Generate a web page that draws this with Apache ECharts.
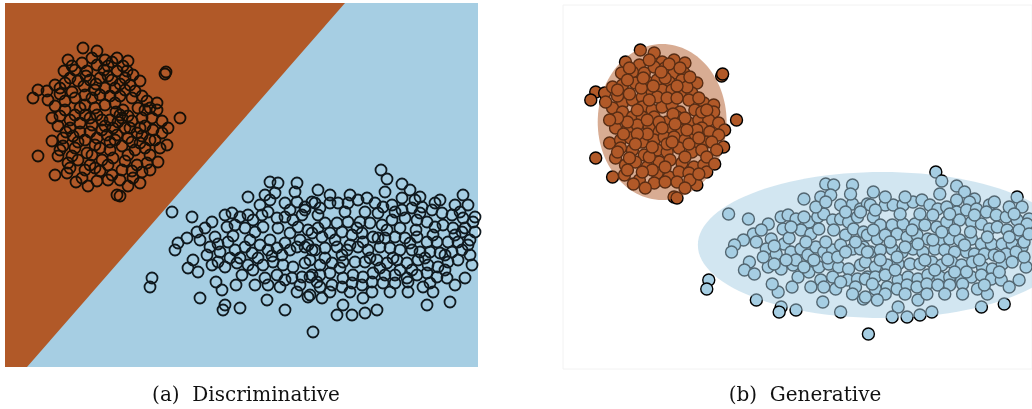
<!DOCTYPE html>
<html>
<head>
<meta charset="utf-8">
<script src="https://cdn.jsdelivr.net/npm/echarts@6/dist/echarts.min.js"></script>
<style>
  html, body { margin: 0; padding: 0; background: #fff; }
  #chart { width: 1032px; height: 409px; }
</style>
</head>
<body>
<div id="chart"></div>
<script>
// points (pixel-like units, y grows downward)
var brownPts = [
  [83,48],[97,51],[68,60],[82,63],[105,60],[117,58],[128,61],[64,71],[75,70],[87,71],
  [97,65],[108,66],[117,71],[127,71],[165,74],[166,72],[38,90],[47,91],[33,98],[55,85],
  [65,83],[78,81],[90,80],[100,78],[112,80],[125,78],[140,81],[65,101],[75,98],[85,95],
  [95,90],[105,88],[115,88],[125,90],[135,91],[132,98],[147,101],[157,103],[55,106],[65,110],
  [85,105],[95,108],[105,105],[115,103],[123,110],[138,108],[157,110],[75,115],[85,115],[97,115],
  [110,120],[122,118],[132,121],[142,118],[152,118],[162,121],[180,118],[168,128],[58,126],[70,128],
  [80,123],[92,125],[102,130],[113,128],[125,128],[137,133],[145,126],[153,130],[162,133],[52,141],
  [63,138],[73,136],[85,140],[97,138],[107,135],[117,135],[128,138],[140,143],[150,140],[167,145],
  [38,156],[63,146],[75,148],[87,153],[100,148],[110,150],[122,146],[135,150],[145,148],[58,156],
  [68,163],[78,160],[90,165],[102,160],[113,158],[125,161],[137,165],[147,163],[55,175],[67,173],
  [82,178],[100,171],[112,175],[122,170],[132,171],[140,183],[97,181],[108,180],[133,178],[117,195],
  [120,196],[72,156],[92,155],[80,108],[100,95],[120,115],[130,85],[90,132],[110,142],[145,110],
  [70,120],[60,150],[128,155],[150,155],[95,168],
  [72,66],[92,58],[112,62],[123,66],[70,78],[84,86],[96,84],[108,76],[120,84],[133,75],
  [60,94],[72,92],[92,98],[110,96],[120,96],[142,96],[150,108],[60,116],[90,118],[102,120],
  [116,112],[128,116],[140,128],[80,132],[95,145],[105,126],[118,122],[130,128],[155,140],[160,148],
  [66,132],[78,142],[115,140],[132,142],[142,136],[70,168],[85,170],[108,165],[120,180],[128,186],
  [88,186],[76,182],[150,170],[158,162],[142,172],[48,100],[52,118],[60,88],[86,76],[104,70]
];
var bluePts = [
  [270,182],[278,183],[297,183],[248,197],[265,195],[275,193],[285,203],[297,202],[305,207],[312,202],
  [172,212],[192,217],[212,222],[225,215],[232,213],[240,217],[253,220],[262,215],[268,212],[277,218],
  [285,217],[293,220],[302,215],[197,232],[187,238],[178,243],[175,250],[215,237],[227,227],[245,228],
  [255,232],[263,227],[278,228],[290,233],[298,227],[308,230],[210,247],[220,252],[228,242],[235,250],
  [245,247],[252,253],[260,245],[268,250],[277,248],[285,243],[297,247],[308,245],[193,260],[188,268],
  [198,272],[212,265],[225,267],[237,263],[242,275],[253,270],[263,265],[273,262],[283,265],[293,267],
  [305,263],[312,275],[152,278],[150,287],[255,285],[277,275],[280,287],[292,278],[302,277],[222,290],
  [200,298],[225,305],[223,310],[240,308],[267,300],[285,310],[308,297],[313,332],
  [381,170],[387,179],[385,192],[402,184],[410,190],[420,197],[415,200],[402,198],[435,203],[463,195],
  [468,205],[475,217],[315,203],[330,203],[338,203],[348,203],[358,200],[367,198],[375,203],[383,207],
  [392,205],[402,210],[412,208],[422,207],[432,210],[442,213],[452,215],[463,218],[473,222],[305,210],
  [318,215],[325,223],[337,223],[348,222],[360,222],[370,223],[382,225],[392,220],[405,218],[417,220],
  [427,222],[435,227],[443,225],[453,228],[462,232],[312,233],[322,237],[330,233],[342,232],[352,235],
  [362,233],[373,237],[385,238],[395,237],[405,238],[417,237],[427,242],[437,242],[448,242],[458,242],
  [468,245],[305,247],[315,250],[325,248],[337,247],[347,250],[358,247],[368,250],[380,247],[390,248],
  [400,250],[412,250],[420,252],[430,252],[440,253],[452,252],[462,250],[472,265],[310,260],[320,265],
  [332,263],[343,262],[355,262],[365,262],[377,260],[387,263],[397,260],[407,263],[418,260],[428,265],
  [438,267],[448,262],[458,260],[310,277],[320,275],[330,273],[343,278],[353,275],[363,277],[373,273],
  [385,275],[395,275],[407,278],[417,275],[427,273],[437,277],[447,278],[310,295],[320,287],[332,285],
  [342,287],[352,283],[362,285],[372,282],[383,283],[395,283],[408,282],[408,292],[423,287],[433,292],
  [363,298],[343,305],[337,315],[352,315],[365,313],[377,310],[427,305],[450,302],
  [205,228],[218,244],[233,236],[240,258],[250,240],[258,258],[270,240],[272,256],[282,255],[290,250],
  [300,240],[312,250],[318,228],[325,258],[335,240],[342,255],[350,245],[357,228],[363,242],[370,258],
  [378,238],[387,230],[393,258],[400,228],[410,243],[416,230],[425,258],[433,235],[445,255],[455,235],
  [465,228],[470,240],[260,205],[270,200],[290,210],[320,208],[345,212],[365,212],[378,213],[395,212],
  [420,213],[440,200],[455,205],[230,258],[248,265],[265,278],[285,280],[300,285],[317,282],[330,292],
  [350,292],[372,292],[390,292],[400,270],[412,270],[445,270],[455,285],[465,278],[207,255],[218,262],
  [200,240],[235,225],[248,215],[216,282],[236,285],[268,285],[297,292],[322,298],[340,268],[380,268],
  [430,283],[470,255],[475,232],[460,212],[350,195],[330,195],[318,190],[295,192]
];
// decision boundary (left panel) and gaussian ellipses (right panel)
var boundary = [[5,3],[345,3],[27,367],[5,367]];
var brownEllipse = { cx: 105, cy: 120, rx: 65, ry: 78 };
var blueEllipse = { cx: 327, cy: 243, rx: 186, ry: 73 };
var captions = ['(a)  Discriminative', '(b)  Generative'];

var BROWN = '#b15928';
var BLUE = '#a6cee3';

var chart = echarts.init(document.getElementById('chart'));

function axesFor(i) {
  return [
    { type: 'value', gridIndex: i, min: 5, max: 478, show: false },
    { type: 'value', gridIndex: i, min: 3, max: 367, inverse: true, show: false }
  ];
}

function ellipseSeries(e, color) {
  return {
    type: 'custom',
    xAxisIndex: 1, yAxisIndex: 1,
    zlevel: 1,
    silent: true,
    data: [[e.cx, e.cy, e.rx, e.ry]],
    renderItem: function (params, api) {
      var c = api.coord([api.value(0), api.value(1)]);
      var s = api.size([api.value(2), api.value(3)]);
      var pts = [];
      for (var k = 0; k < 120; k++) {
        var a = k / 120 * Math.PI * 2;
        pts.push([c[0] + s[0] * Math.cos(a), c[1] + s[1] * Math.sin(a)]);
      }
      return {
        type: 'polygon',
        shape: { points: pts },
        style: { fill: color },
        clipPath: {
          type: 'rect',
          shape: { x: params.coordSys.x, y: params.coordSys.y, width: params.coordSys.width, height: params.coordSys.height }
        }
      };
    }
  };
}

var capStyle = { fontFamily: 'DejaVu Serif', fontWeight: 'normal', fontSize: 20, color: '#111' };

var option = {
  animation: false,
  backgroundColor: '#fff',
  title: [
    { text: captions[0], left: 241, top: 381, textAlign: 'center', textStyle: capStyle },
    { text: captions[1], left: 800, top: 381, textAlign: 'center', textStyle: capStyle }
  ],
  grid: [
    { left: 5, top: 3, width: 473, height: 364, show: true, backgroundColor: BLUE, borderWidth: 0 },
    { left: 563, top: 5, width: 473, height: 364, show: true, backgroundColor: '#fff', borderColor: '#f2f2f2', borderWidth: 1 }
  ],
  xAxis: [axesFor(0)[0], axesFor(1)[0]],
  yAxis: [axesFor(0)[1], axesFor(1)[1]],
  series: [
    {
      type: 'custom',
      xAxisIndex: 0, yAxisIndex: 0,
      z: 1,
      silent: true,
      data: [0],
      renderItem: function (params, api) {
        var pts = boundary.map(function (p) { return api.coord(p); });
        return { type: 'polygon', shape: { points: pts }, style: { fill: BROWN } };
      }
    },
    {
      type: 'scatter', xAxisIndex: 0, yAxisIndex: 0, z: 3,
      data: brownPts, symbolSize: 11,
      itemStyle: { color: 'rgba(0,0,0,0)', borderColor: '#161008', borderWidth: 1.8, opacity: 1 }
    },
    {
      type: 'scatter', xAxisIndex: 0, yAxisIndex: 0, z: 3,
      data: bluePts, symbolSize: 11,
      itemStyle: { color: 'rgba(0,0,0,0)', borderColor: '#101a20', borderWidth: 1.8, opacity: 1 }
    },
    {
      type: 'scatter', xAxisIndex: 1, yAxisIndex: 1, z: 3,
      data: brownPts, symbolSize: 12,
      itemStyle: { color: BROWN, borderColor: '#000', borderWidth: 1.4, opacity: 1 }
    },
    {
      type: 'scatter', xAxisIndex: 1, yAxisIndex: 1, z: 3,
      data: bluePts, symbolSize: 12,
      itemStyle: { color: BLUE, borderColor: '#000', borderWidth: 1.4, opacity: 1 }
    },
    ellipseSeries(brownEllipse, 'rgba(177,89,40,0.5)'),
    ellipseSeries(blueEllipse, 'rgba(166,206,227,0.5)')
  ]
};
chart.setOption(option);
</script>
</body>
</html>
